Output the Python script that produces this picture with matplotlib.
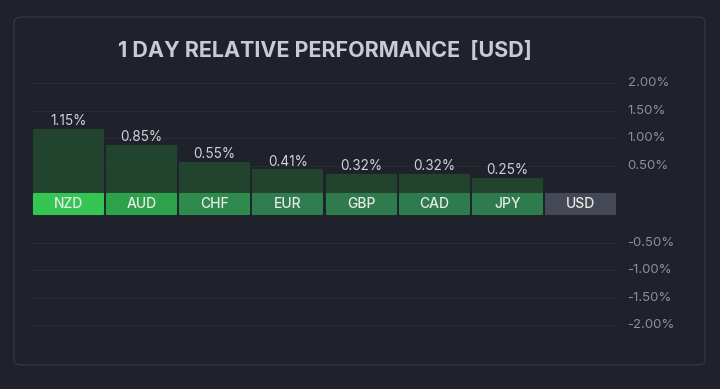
import matplotlib
matplotlib.use("Agg")
import matplotlib.pyplot as plt
from matplotlib.patches import FancyBboxPatch

# ── Data ─────────────────────────────────────────────────────────────────────
currencies = ["NZD", "AUD", "CHF", "EUR", "GBP", "CAD", "JPY", "USD"]
changes = [1.15, 0.85, 0.55, 0.41, 0.32, 0.32, 0.25, 0.00]
band_colors = ["#34c553", "#2da24b", "#2f8a4e", "#2f7d4e", "#2f7b4d",
               "#2f7b4d", "#2f7b4d", "#454955"]
pos_ticks = [0.5, 1.0, 1.5, 2.0]
neg_ticks = [-0.5, -1.0, -1.5, -2.0]

BG = "#1f222b"
BAND = 0.40          # height of the label strip, in % units
GRID = "#282b34"

plt.rcParams["font.family"] = ["Inter", "DejaVu Sans"]

fig = plt.figure(figsize=(7.2, 3.89), dpi=100, facecolor=BG)

# panel frame (behind the axes)
panel = FancyBboxPatch((14 / 720, 1 - 365 / 389), 691 / 720, 348 / 389,
                       boxstyle="round,pad=0,rounding_size=0.012",
                       transform=fig.transFigure, facecolor=BG,
                       edgecolor="#33363f", lw=1.0, zorder=-10)
fig.patches.append(panel)

fig.text(325 / 720, 1 - 51 / 389, "1 DAY RELATIVE PERFORMANCE  [USD]",
         ha="center", va="center", fontsize=15.5, fontweight="bold",
         color="#c9cbd3")

# axes: x 32..617 px, y maps 193 - 55*d
top_px, bot_px = 66.5, 347.0
ax = fig.add_axes([32 / 720, 1 - bot_px / 389, (617 - 32) / 720,
                   (bot_px - top_px) / 389])
ax.set_facecolor("none")
ymax = (193 - top_px) / 55
ymin = (193 - bot_px) / 55
ax.set_ylim(ymin, ymax)
n = len(currencies)
ax.set_xlim(-0.5, n - 0.5)
for s in ax.spines.values():
    s.set_visible(False)
ax.set_xticks([])
ax.set_yticks([])

# grid lines + right tick labels
for t in pos_ticks:
    ax.axhline(t, color=GRID, lw=0.8, zorder=0)
    ax.text(1.018, t, f"{t:.2f}%", transform=ax.get_yaxis_transform(),
            ha="left", va="center", fontsize=9.5, color="#8b8f9b")
for t in neg_ticks:
    y = t - BAND
    ax.axhline(y, color=GRID, lw=0.8, zorder=0)
    ax.text(1.018, y, f"{t:.2f}%", transform=ax.get_yaxis_transform(),
            ha="left", va="center", fontsize=9.5, color="#8b8f9b")

w = 0.945
for i, (cur, val, bc) in enumerate(zip(currencies, changes, band_colors)):
    if val > 0:
        ax.bar(i, val, width=w, bottom=0, color="#22442f", edgecolor="#22442f",
               lw=1.5, joinstyle="round", zorder=2)
        ax.text(i, val + 0.035, f"{val:.2f}%", ha="center", va="bottom",
                fontsize=9.8, color="#d0d2d8")
    ax.bar(i, -BAND + 0.02, width=w, bottom=-0.01, color=bc, edgecolor=bc,
           lw=1.5, joinstyle="round", zorder=3)
    ax.text(i, -BAND / 2, cur, ha="center", va="center", fontsize=10,
            fontweight="medium", color="#e6eae6", zorder=4)

fig.savefig("out.png", dpi=100, facecolor=BG)
